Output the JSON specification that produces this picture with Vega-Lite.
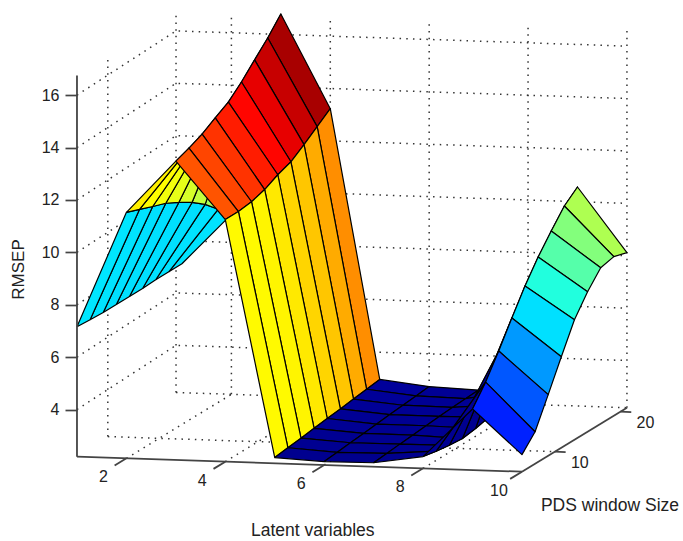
{
"$schema":"https://vega.github.io/schema/vega-lite/v6.json",
"width":683,"height":541,"padding":0,"autosize":{"type":"none"},"background":"white",
"config":{"view":{"stroke":null},"font":"Liberation Sans"},
"datasets":{
"grid":[
{"id":121,"lv":1,"w":21,"rmsep":7.12},{"id":119,"lv":1,"w":19,"rmsep":7.12},{"id":117,"lv":1,"w":17,"rmsep":7.12},{"id":115,"lv":1,"w":15,"rmsep":7.09},{"id":113,"lv":1,"w":13,"rmsep":7.09},{"id":111,"lv":1,"w":11,"rmsep":7.09},{"id":109,"lv":1,"w":9,"rmsep":7.09},{"id":107,"lv":1,"w":7,"rmsep":7.12},{"id":105,"lv":1,"w":5,"rmsep":7.16},
{"id":221,"lv":2,"w":21,"rmsep":9.07},{"id":219,"lv":2,"w":19,"rmsep":9.57},{"id":217,"lv":2,"w":17,"rmsep":10.06},{"id":215,"lv":2,"w":15,"rmsep":10.44},{"id":213,"lv":2,"w":13,"rmsep":10.75},{"id":211,"lv":2,"w":11,"rmsep":11.02},{"id":209,"lv":2,"w":9,"rmsep":11.2},{"id":207,"lv":2,"w":7,"rmsep":11.4},{"id":205,"lv":2,"w":5,"rmsep":11.59},
{"id":321,"lv":3,"w":21,"rmsep":16.78},{"id":319,"lv":3,"w":19,"rmsep":16.17},{"id":317,"lv":3,"w":17,"rmsep":15.64},{"id":315,"lv":3,"w":15,"rmsep":15.1},{"id":313,"lv":3,"w":13,"rmsep":14.64},{"id":311,"lv":3,"w":11,"rmsep":14.34},{"id":309,"lv":3,"w":9,"rmsep":14.03},{"id":307,"lv":3,"w":7,"rmsep":13.8},{"id":305,"lv":3,"w":5,"rmsep":13.61},
{"id":421,"lv":4,"w":21,"rmsep":13.23},{"id":419,"lv":4,"w":19,"rmsep":12.85},{"id":417,"lv":4,"w":17,"rmsep":12.47},{"id":415,"lv":4,"w":15,"rmsep":12.12},{"id":413,"lv":4,"w":13,"rmsep":11.93},{"id":411,"lv":4,"w":11,"rmsep":11.67},{"id":409,"lv":4,"w":9,"rmsep":11.51},{"id":407,"lv":4,"w":7,"rmsep":11.44},{"id":405,"lv":4,"w":5,"rmsep":11.44},
{"id":521,"lv":5,"w":21,"rmsep":2.96},{"id":519,"lv":5,"w":19,"rmsep":2.89},{"id":517,"lv":5,"w":17,"rmsep":2.82},{"id":515,"lv":5,"w":15,"rmsep":2.75},{"id":513,"lv":5,"w":13,"rmsep":2.69},{"id":511,"lv":5,"w":11,"rmsep":2.62},{"id":509,"lv":5,"w":9,"rmsep":2.55},{"id":507,"lv":5,"w":7,"rmsep":2.49},{"id":505,"lv":5,"w":5,"rmsep":2.42},
{"id":621,"lv":6,"w":21,"rmsep":2.75},{"id":619,"lv":6,"w":19,"rmsep":2.7},{"id":617,"lv":6,"w":17,"rmsep":2.65},{"id":615,"lv":6,"w":15,"rmsep":2.6},{"id":613,"lv":6,"w":13,"rmsep":2.54},{"id":611,"lv":6,"w":11,"rmsep":2.49},{"id":609,"lv":6,"w":9,"rmsep":2.44},{"id":607,"lv":6,"w":7,"rmsep":2.38},{"id":605,"lv":6,"w":5,"rmsep":2.33},
{"id":721,"lv":7,"w":21,"rmsep":2.68},{"id":719,"lv":7,"w":19,"rmsep":2.66},{"id":717,"lv":7,"w":17,"rmsep":2.63},{"id":715,"lv":7,"w":15,"rmsep":2.59},{"id":713,"lv":7,"w":13,"rmsep":2.54},{"id":711,"lv":7,"w":11,"rmsep":2.49},{"id":709,"lv":7,"w":9,"rmsep":2.45},{"id":707,"lv":7,"w":7,"rmsep":2.4},{"id":705,"lv":7,"w":5,"rmsep":2.35},
{"id":821,"lv":8,"w":21,"rmsep":3.2},{"id":819,"lv":8,"w":19,"rmsep":3.0},{"id":817,"lv":8,"w":17,"rmsep":2.8},{"id":815,"lv":8,"w":15,"rmsep":2.62},{"id":813,"lv":8,"w":13,"rmsep":2.5},{"id":811,"lv":8,"w":11,"rmsep":2.42},{"id":809,"lv":8,"w":9,"rmsep":2.47},{"id":807,"lv":8,"w":7,"rmsep":2.55},{"id":805,"lv":8,"w":5,"rmsep":2.65},
{"id":921,"lv":9,"w":21,"rmsep":10.56},{"id":919,"lv":9,"w":19,"rmsep":10.14},{"id":917,"lv":9,"w":17,"rmsep":9.49},{"id":915,"lv":9,"w":15,"rmsep":8.8},{"id":913,"lv":9,"w":13,"rmsep":8.0},{"id":911,"lv":9,"w":11,"rmsep":7.09},{"id":909,"lv":9,"w":9,"rmsep":6.13},{"id":907,"lv":9,"w":7,"rmsep":5.25},{"id":905,"lv":9,"w":5,"rmsep":4.53},
{"id":1021,"lv":10,"w":21,"rmsep":8.12},{"id":1019,"lv":10,"w":19,"rmsep":8.27},{"id":1017,"lv":10,"w":17,"rmsep":8.15},{"id":1015,"lv":10,"w":15,"rmsep":7.54},{"id":1013,"lv":10,"w":13,"rmsep":6.78},{"id":1011,"lv":10,"w":11,"rmsep":5.67},{"id":1009,"lv":10,"w":9,"rmsep":4.53},{"id":1007,"lv":10,"w":7,"rmsep":3.42},{"id":1005,"lv":10,"w":5,"rmsep":2.85}
],
"dotted":[
{"g":"z4","s":0,"lv":1,"w":5,"rmsep":4},{"g":"z4","s":1,"lv":0.88,"w":21,"rmsep":4},{"g":"z4","s":2,"lv":10,"w":21,"rmsep":4},
{"g":"z6","s":0,"lv":1,"w":5,"rmsep":6},{"g":"z6","s":1,"lv":0.88,"w":21,"rmsep":6},{"g":"z6","s":2,"lv":10,"w":21,"rmsep":6},
{"g":"z8","s":0,"lv":1,"w":5,"rmsep":8},{"g":"z8","s":1,"lv":0.88,"w":21,"rmsep":8},{"g":"z8","s":2,"lv":10,"w":21,"rmsep":8},
{"g":"z10","s":0,"lv":1,"w":5,"rmsep":10},{"g":"z10","s":1,"lv":0.88,"w":21,"rmsep":10},{"g":"z10","s":2,"lv":10,"w":21,"rmsep":10},
{"g":"z12","s":0,"lv":1,"w":5,"rmsep":12},{"g":"z12","s":1,"lv":0.88,"w":21,"rmsep":12},{"g":"z12","s":2,"lv":10,"w":21,"rmsep":12},
{"g":"z14","s":0,"lv":1,"w":5,"rmsep":14},{"g":"z14","s":1,"lv":0.88,"w":21,"rmsep":14},{"g":"z14","s":2,"lv":10,"w":21,"rmsep":14},
{"g":"z16","s":0,"lv":1,"w":5,"rmsep":16},{"g":"z16","s":1,"lv":0.88,"w":21,"rmsep":16},{"g":"z16","s":2,"lv":10,"w":21,"rmsep":16},
{"g":"v0","s":0,"lv":0.88,"w":21,"rmsep":2.2},{"g":"v0","s":1,"lv":0.88,"w":21,"rmsep":16.65},
{"g":"v2","s":0,"lv":2,"w":21,"rmsep":2.2},{"g":"v2","s":1,"lv":2,"w":21,"rmsep":16.65},
{"g":"v4","s":0,"lv":4,"w":21,"rmsep":2.2},{"g":"v4","s":1,"lv":4,"w":21,"rmsep":16.65},
{"g":"v6","s":0,"lv":6,"w":21,"rmsep":2.2},{"g":"v6","s":1,"lv":6,"w":21,"rmsep":16.65},
{"g":"v8","s":0,"lv":8,"w":21,"rmsep":2.2},{"g":"v8","s":1,"lv":8,"w":21,"rmsep":16.65},
{"g":"v10","s":0,"lv":10,"w":21,"rmsep":2.2},{"g":"v10","s":1,"lv":10,"w":21,"rmsep":16.65},
{"g":"vw","s":0,"lv":0.96,"w":10,"rmsep":2.2},{"g":"vw","s":1,"lv":0.96,"w":10,"rmsep":16.65},
{"g":"fb","s":0,"lv":0.88,"w":21,"rmsep":2.2},{"g":"fb","s":1,"lv":10,"w":21,"rmsep":2.2},
{"g":"fw","s":0,"lv":0.96,"w":10,"rmsep":2.2},{"g":"fw","s":1,"lv":10,"w":10,"rmsep":2.2},
{"g":"f2","s":0,"lv":2,"w":5,"rmsep":2.2},{"g":"f2","s":1,"lv":2,"w":21,"rmsep":2.2},
{"g":"f4","s":0,"lv":4,"w":5,"rmsep":2.2},{"g":"f4","s":1,"lv":4,"w":21,"rmsep":2.2},
{"g":"f6","s":0,"lv":6,"w":5,"rmsep":2.2},{"g":"f6","s":1,"lv":6,"w":21,"rmsep":2.2},
{"g":"f8","s":0,"lv":8,"w":5,"rmsep":2.2},{"g":"f8","s":1,"lv":8,"w":21,"rmsep":2.2}
],
"frame":[
{"g":"ax","s":0,"lv":1,"w":5,"rmsep":2.2},{"g":"ax","s":1,"lv":10,"w":5,"rmsep":2.2},
{"g":"az","s":0,"lv":1,"w":5,"rmsep":2.2},{"g":"az","s":1,"lv":1,"w":5,"rmsep":16.75},
{"g":"ad","s":0,"lv":10,"w":5,"rmsep":2.2},{"g":"ad","s":1,"lv":10,"w":21,"rmsep":2.2},
{"g":"t2","s":0,"lv":2,"w":5,"rmsep":2.2},{"g":"t2","s":1,"lv":2,"w":3.2,"rmsep":2.2},
{"g":"t4","s":0,"lv":4,"w":5,"rmsep":2.2},{"g":"t4","s":1,"lv":4,"w":3.2,"rmsep":2.2},
{"g":"t6","s":0,"lv":6,"w":5,"rmsep":2.2},{"g":"t6","s":1,"lv":6,"w":3.2,"rmsep":2.2},
{"g":"t8","s":0,"lv":8,"w":5,"rmsep":2.2},{"g":"t8","s":1,"lv":8,"w":3.2,"rmsep":2.2},
{"g":"t10","s":0,"lv":10,"w":5,"rmsep":2.2},{"g":"t10","s":1,"lv":10,"w":3.2,"rmsep":2.2},
{"g":"u10","s":0,"lv":10,"w":10,"rmsep":2.2},{"g":"u10","s":1,"lv":10.22,"w":10,"rmsep":2.2},
{"g":"u20","s":0,"lv":10,"w":20,"rmsep":2.2},{"g":"u20","s":1,"lv":10.22,"w":20,"rmsep":2.2}
]
},
"encoding":{
"x":{"field":"X","type":"quantitative","scale":{"domain":[-0.557,13.257],"nice":false,"zero":false},"axis":null},
"y":{"field":"Y","type":"quantitative","scale":{"domain":[-1.019,19.63],"nice":false,"zero":false},
"axis":{"orient":"left","offset":-77,"values":[4,6,8,10,12,14,16],"format":"d","domain":false,"grid":false,"tickSize":12,"tickColor":"#444","tickWidth":1.7,"labelFont":"Liberation Sans","labelFontSize":16,"labelColor":"#222","labelPadding":6,"title":"RMSEP","titleFont":"Liberation Sans","titleX":-59,"titleY":269,"titleAngle":-90,"titleFontSize":17,"titleFontWeight":"normal","titleColor":"#222","titleAlign":"center","titleBaseline":"middle"}}
},
"layer":[
{"data":{"name":"dotted"},
"transform":[
{"calculate":"datum.lv+0.1327*(datum.w-5)","as":"X"},
{"calculate":"datum.rmsep+(4*(datum.w-5)-1.67*(datum.lv-1))/26.2","as":"Y"}],
"mark":{"type":"line","stroke":"#333","strokeWidth":1.5,"strokeDash":[1.5,5.2]},
"encoding":{"detail":{"field":"g"},"order":{"field":"s"}}},
{"data":{"name":"grid"},
"transform":[
{"filter":"datum.lv<10 && datum.w<21"},
{"calculate":"[0,1,2,3,4]","as":"corner"},
{"flatten":["corner"]},
{"calculate":"datum.lv+((datum.corner==1||datum.corner==2)?1:0)","as":"clv"},
{"calculate":"datum.w+((datum.corner==2||datum.corner==3)?2:0)","as":"cw"},
{"calculate":"datum.clv*100+datum.cw","as":"key"},
{"lookup":"key","from":{"data":{"name":"grid"},"key":"id","fields":["rmsep"]},"as":["h"]},
{"calculate":"datum.clv+0.1327*(datum.cw-5)","as":"X"},
{"calculate":"datum.h+(4*(datum.cw-5)-1.67*(datum.clv-1))/26.2","as":"Y"}],
"mark":{"type":"line","stroke":"#000","strokeWidth":1.2,"strokeJoin":"round"},
"encoding":{"detail":{"field":"id"},"order":{"field":"corner"},
"fill":{"field":"rmsep","type":"quantitative","legend":null,"scale":{"domain":[2.27,3.0,4.09,7.5,11.38,14.7,16.85],"range":["#00008c","#00009c","#0000ff","#00ffff","#ffff00","#ff0000","#800000"],"interpolate":"rgb","clamp":true}}}},
{"data":{"name":"frame"},
"transform":[
{"calculate":"datum.lv+0.1327*(datum.w-5)","as":"X"},
{"calculate":"datum.rmsep+(4*(datum.w-5)-1.67*(datum.lv-1))/26.2","as":"Y"}],
"mark":{"type":"line","stroke":"#444","strokeWidth":1.8},
"encoding":{"detail":{"field":"g"},"order":{"field":"s"}}},
{"data":{"values":[{"label":"2","lv":2,"w":5,"rmsep":2.2},{"label":"4","lv":4,"w":5,"rmsep":2.2},{"label":"6","lv":6,"w":5,"rmsep":2.2},{"label":"8","lv":8,"w":5,"rmsep":2.2},{"label":"10","lv":10,"w":5,"rmsep":2.2}]},
"transform":[
{"calculate":"datum.lv+0.1327*(datum.w-5)","as":"X"},
{"calculate":"datum.rmsep+(4*(datum.w-5)-1.67*(datum.lv-1))/26.2","as":"Y"}],
"mark":{"type":"text","font":"Liberation Sans","fontSize":16,"color":"#222","align":"center","baseline":"middle","dx":-23,"dy":19},
"encoding":{"text":{"field":"label"}}},
{"data":{"values":[{"label":"10","lv":10,"w":10,"rmsep":2.2},{"label":"20","lv":10,"w":20,"rmsep":2.2}]},
"transform":[
{"calculate":"datum.lv+0.1327*(datum.w-5)","as":"X"},
{"calculate":"datum.rmsep+(4*(datum.w-5)-1.67*(datum.lv-1))/26.2","as":"Y"}],
"mark":{"type":"text","font":"Liberation Sans","fontSize":16,"color":"#222","align":"center","baseline":"middle","dx":25,"dy":11},
"encoding":{"text":{"field":"label"}}},
{"data":{"values":[{"label":"Latent variables","lv":5.77,"w":5,"rmsep":-0.33},{"label":"PDS window Size","lv":11.78,"w":5,"rmsep":1.0}]},
"transform":[
{"calculate":"datum.lv+0.1327*(datum.w-5)","as":"X"},
{"calculate":"datum.rmsep+(4*(datum.w-5)-1.67*(datum.lv-1))/26.2","as":"Y"}],
"mark":{"type":"text","font":"Liberation Sans","fontSize":17.5,"color":"#222","align":"center","baseline":"middle"},
"encoding":{"text":{"field":"label"}}}
]
}
